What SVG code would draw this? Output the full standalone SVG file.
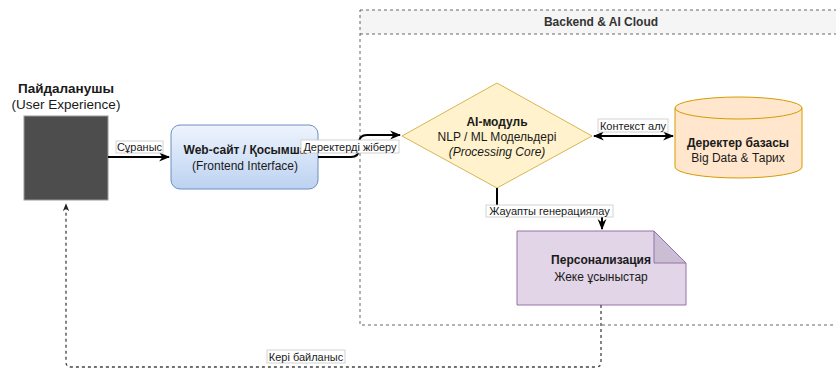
<svg xmlns="http://www.w3.org/2000/svg" width="836" height="369" viewBox="0 0 836 369">
<style>
text{font-family:"Liberation Sans",Arial,sans-serif;fill:#1a1a1a;text-anchor:middle}
.b{font-weight:bold}
.t12{font-size:12px}
.t13{font-size:13.5px}
.lbl{font-size:11px}
.lbg{fill:#fff;stroke:#c8c8c8;stroke-width:0.8}
.conn{fill:none;stroke:#000;stroke-width:2}
.dash{fill:none;stroke:#444;stroke-width:1.3;stroke-dasharray:3 3}
</style>
<defs>
<linearGradient id="gWeb" x1="0" y1="0" x2="0" y2="1">
<stop offset="0" stop-color="#eef4fd"/>
<stop offset="1" stop-color="#bcd2f1"/>
</linearGradient>
<marker id="arr" viewBox="0 0 10 10" refX="9" refY="5" markerWidth="11" markerHeight="11" markerUnits="userSpaceOnUse" orient="auto-start-reverse">
<path d="M0,1 L10,5 L0,9 L3,5 z" fill="#000"/>
</marker>
<marker id="arrS" viewBox="0 0 10 10" refX="9" refY="5" markerWidth="8" markerHeight="8" markerUnits="userSpaceOnUse" orient="auto">
<path d="M0,1 L10,5 L0,9 L3,5 z" fill="#222"/>
</marker>
</defs>

<g id="container">
<rect x="360" y="10" width="490" height="24" fill="#f5f5f5"/>
<rect x="360" y="10" width="490" height="315" fill="none" stroke="#666" stroke-width="1" stroke-dasharray="3 3"/>
<line x1="360" y1="34" x2="850" y2="34" stroke="#666" stroke-width="1" stroke-dasharray="3 3"/>
<text class="b t12" x="601" y="26" style="fill:#333">Backend &amp; AI Cloud</text>
</g>

<g id="user">
<rect x="24" y="116" width="84" height="84" fill="#4d4d4d" stroke="#9a9a9a" stroke-width="1"/>
<text class="b t13" x="66" y="93">Пайдаланушы</text>
<text class="t13" x="66" y="109">(User Experience)</text>
</g>

<g id="web">
<rect x="171" y="125" width="147" height="64" rx="9" fill="url(#gWeb)" stroke="#6c8ebf" stroke-width="1"/>
<text class="b t12" x="245" y="154">Web-сайт / Қосымша</text>
<text class="t12" x="245" y="170">(Frontend Interface)</text>
</g>

<g id="ai">
<polygon points="402,136 497,83 592,136 497,188" fill="#fff2cc" stroke="#d6b656" stroke-width="1"/>
<text class="b t12" x="497" y="126">AI-модуль</text>
<text class="t12" x="497" y="141">NLP / ML Модельдері</text>
<text class="t12" x="497" y="156" font-style="italic">(Processing Core)</text>
</g>

<g id="db">
<path d="M675,108 A63.5,11 0 0 1 802,108 V167 A63.5,11 0 0 1 675,167 Z" fill="#ffe6cc" stroke="#d79b00" stroke-width="1"/>
<path d="M675,108 A63.5,11 0 0 0 802,108" fill="none" stroke="#d79b00" stroke-width="1"/>
<text class="b t12" x="738" y="147">Деректер базасы</text>
<text class="t12" x="738" y="162">Big Data &amp; Тарих</text>
</g>

<g id="personalization">
<path d="M517,231 H654 L686,263 V305 H517 Z" fill="#e1d5e7" stroke="#9673a6" stroke-width="1"/>
<path d="M654,231 V263 H686 Z" fill="#cbbdd3" stroke="#9673a6" stroke-width="1"/>
<text class="b t12" x="601" y="264">Персонализация</text>
<text class="t12" x="601" y="281">Жеке ұсыныстар</text>
</g>

<g id="connectors">
<path class="conn" d="M108,157 H169" marker-end="url(#arr)"/>
<path class="conn" d="M318,157 H351 Q359,157 359,149 V143 Q359,135 367,135 H400" marker-end="url(#arr)"/>
<path class="conn" d="M594,136 H673" marker-start="url(#arr)" marker-end="url(#arr)"/>
<path class="conn" d="M497,188 V206 Q497,211 502,211 H597 Q602,211 602,216 V229" marker-end="url(#arr)"/>
<path class="dash" d="M601,305 V362 Q601,367 596,367 H71 Q66,367 66,362 V204" marker-end="url(#arrS)"/>

<rect class="lbg" x="116" y="141" width="47" height="12"/>
<text class="lbl" x="139.5" y="151">Сұраныс</text>
<rect class="lbg" x="301" y="140" width="98" height="13"/>
<text class="lbl" x="350" y="150.5">Деректерді жіберу</text>
<rect class="lbg" x="598" y="119" width="70" height="13"/>
<text class="lbl" x="633" y="129.5">Контекст алу</text>
<rect class="lbg" x="486" y="205" width="127" height="12"/>
<text class="lbl" x="549.5" y="215">Жауапты генерациялау</text>
<rect class="lbg" x="267" y="350" width="78" height="13"/>
<text class="lbl" x="306" y="360.5">Кері байланыс</text>
</g>
</svg>
